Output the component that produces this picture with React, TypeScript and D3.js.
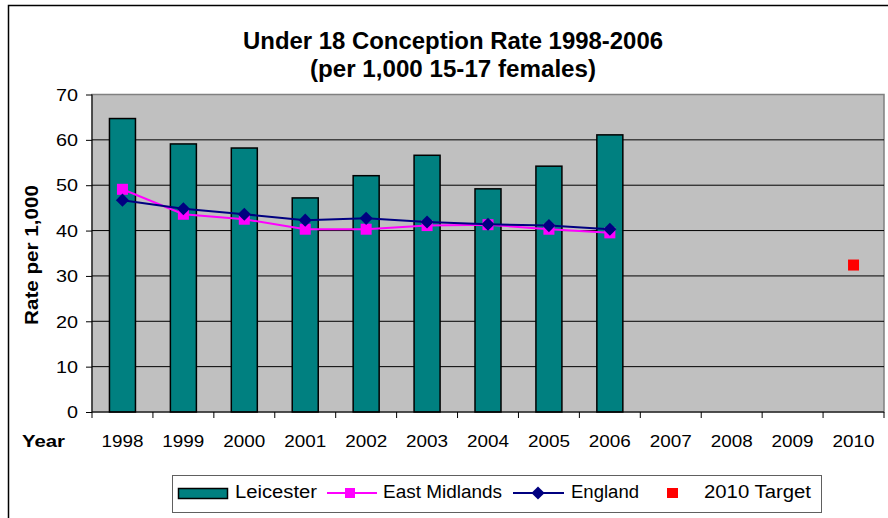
import * as d3 from "d3";
import { useEffect, useRef } from "react";

const years = ["1998", "1999", "2000", "2001", "2002", "2003", "2004", "2005", "2006", "2007", "2008", "2009", "2010"];
const leicester = [64.7, 59.1, 58.2, 47.2, 52.1, 56.6, 49.2, 54.2, 61.1];
const eastMidlands = [49.1, 43.6, 42.5, 40.3, 40.3, 41.1, 41.3, 40.3, 39.5];
const england = [46.7, 44.8, 43.6, 42.3, 42.7, 41.9, 41.4, 41.1, 40.3];
const target = [{ year: "2010", value: 32.4 }];
const yTicks = [0, 10, 20, 30, 40, 50, 60, 70];

const W = 888;
const H = 518;
const font = "'Liberation Sans', Arial, sans-serif";

function App() {
  const svgRef = useRef<SVGSVGElement>(null);

  useEffect(() => {
    const svg = d3.select(svgRef.current);
    svg.selectAll("*").remove();

    const left = 92, right = 884, top = 94.5, bottom = 412;
    const x = d3.scaleBand().domain(years).range([left, right]);
    const y = d3.scaleLinear().domain([0, 70]).range([bottom, top]);
    const cx = (yr: string) => (x(yr) as number) + x.bandwidth() / 2;

    // outer chart border
    svg.append("rect").attr("x", 8.5).attr("y", 5.5).attr("width", 900).attr("height", 540)
      .attr("fill", "white").attr("stroke", "black").attr("stroke-width", 1.5);

    // title (source text is slightly stretched, so widths are forced)
    const title = [
      { t: "Under 18 Conception Rate 1998-2006", y: 49, w: 420 },
      { t: "(per 1,000 15-17 females)", y: 77, w: 286 },
    ];
    svg.append("g").selectAll("text").data(title).join("text")
      .attr("x", 453).attr("y", (d) => d.y).attr("text-anchor", "middle")
      .attr("font-family", font).attr("font-weight", "bold").attr("font-size", 23)
      .attr("textLength", (d) => d.w).attr("lengthAdjust", "spacingAndGlyphs").text((d) => d.t);

    // plot background
    svg.append("rect").attr("x", left).attr("y", top).attr("width", right - left).attr("height", bottom - top)
      .attr("fill", "#C0C0C0").attr("stroke", "#808080").attr("stroke-width", 1.5);

    // gridlines
    svg.append("g").selectAll("line").data(yTicks.filter((t) => t > 0 && t < 70)).join("line")
      .attr("x1", left).attr("x2", right).attr("y1", (d) => y(d)).attr("y2", (d) => y(d))
      .attr("stroke", "black").attr("stroke-width", 1);

    // bars
    const barW = 26;
    svg.append("g").selectAll("rect").data(leicester).join("rect")
      .attr("x", (_, i) => cx(years[i]) - barW / 2)
      .attr("y", (d) => y(d))
      .attr("width", barW)
      .attr("height", (d) => y(0) - y(d))
      .attr("fill", "#008080").attr("stroke", "black").attr("stroke-width", 1.5);

    // axes
    const axisY = d3.axisLeft(y).tickValues(yTicks).tickSize(6).tickPadding(8).tickFormat(d3.format("d"));
    const gy = svg.append("g").attr("transform", `translate(${left},0)`).call(axisY);
    gy.select(".domain").attr("stroke", "black").attr("d", `M0,${top}V${bottom}`);
    gy.selectAll("text").attr("font-family", font).attr("font-size", 16).attr("fill", "black")
      .attr("dy", "0.36em")
      .attr("textLength", (d: any) => String(d).length * 11).attr("lengthAdjust", "spacingAndGlyphs");

    const gx = svg.append("g").attr("transform", `translate(0,${bottom})`);
    gx.append("line").attr("x1", left).attr("x2", right).attr("stroke", "black");
    gx.selectAll("line.tk").data(years.concat(["end"])).join("line").attr("class", "tk")
      .attr("x1", (_, i) => left + i * x.step()).attr("x2", (_, i) => left + i * x.step())
      .attr("y1", 0).attr("y2", 6).attr("stroke", "black");
    gx.selectAll("text").data(years).join("text")
      .attr("x", (d) => cx(d)).attr("y", 35).attr("text-anchor", "middle")
      .attr("font-family", font).attr("font-size", 16).attr("fill", "black")
      .attr("textLength", 42).attr("lengthAdjust", "spacingAndGlyphs").text((d) => d);

    // lines
    const line = d3.line<number>().x((_, i) => cx(years[i])).y((d) => y(d));
    svg.append("path").datum(eastMidlands).attr("d", line).attr("fill", "none")
      .attr("stroke", "#FF00FF").attr("stroke-width", 2);
    svg.append("path").datum(england).attr("d", line).attr("fill", "none")
      .attr("stroke", "#000080").attr("stroke-width", 2);

    svg.append("g").selectAll("rect").data(eastMidlands).join("rect")
      .attr("x", (_, i) => cx(years[i]) - 5.5).attr("y", (d) => y(d) - 5.5)
      .attr("width", 11).attr("height", 11).attr("fill", "#FF00FF");
    const diamond = d3.symbol().type(d3.symbolDiamond2).size(110);
    svg.append("g").selectAll("path").data(england).join("path")
      .attr("transform", (d, i) => `translate(${cx(years[i])},${y(d)})`)
      .attr("d", diamond).attr("fill", "#000080");

    svg.append("g").selectAll("rect").data(target).join("rect")
      .attr("x", (d) => cx(d.year) - 5.5).attr("y", (d) => y(d.value) - 5.5)
      .attr("width", 11).attr("height", 11).attr("fill", "#FF0000");

    // axis titles
    svg.append("text").attr("transform", `translate(38,255) rotate(-90)`).attr("text-anchor", "middle")
      .attr("font-family", font).attr("font-weight", "bold").attr("font-size", 18)
      .attr("textLength", 140).attr("lengthAdjust", "spacingAndGlyphs").text("Rate per 1,000");
    svg.append("text").attr("x", 22).attr("y", 447).attr("font-family", font)
      .attr("font-weight", "bold").attr("font-size", 17)
      .attr("textLength", 43).attr("lengthAdjust", "spacingAndGlyphs").text("Year");

    // legend
    const lg = svg.append("g");
    lg.append("rect").attr("x", 172.5).attr("y", 475.5).attr("width", 649).attr("height", 37)
      .attr("fill", "white").attr("stroke", "#606060");
    lg.append("rect").attr("x", 178.5).attr("y", 488.5).attr("width", 49).attr("height", 10)
      .attr("fill", "#008080").attr("stroke", "black").attr("stroke-width", 1.5);
    lg.append("line").attr("x1", 327).attr("x2", 377).attr("y1", 493).attr("y2", 493)
      .attr("stroke", "#FF00FF").attr("stroke-width", 2);
    lg.append("rect").attr("x", 345).attr("y", 488).attr("width", 10).attr("height", 10).attr("fill", "#FF00FF");
    lg.append("line").attr("x1", 513).attr("x2", 564).attr("y1", 493).attr("y2", 493)
      .attr("stroke", "#000080").attr("stroke-width", 2);
    lg.append("path").attr("transform", "translate(538,493)").attr("d", diamond).attr("fill", "#000080");
    lg.append("rect").attr("x", 667).attr("y", 488).attr("width", 11).attr("height", 10).attr("fill", "#FF0000");
    const legendLabels = [
      { x: 235, w: 82, t: "Leicester" },
      { x: 383, w: 119, t: "East Midlands" },
      { x: 571, w: 68, t: "England" },
      { x: 704, w: 107, t: "2010 Target" },
    ];
    lg.selectAll("text").data(legendLabels).join("text")
      .attr("x", (d) => d.x).attr("y", 498).attr("font-family", font).attr("font-size", 18)
      .attr("textLength", (d) => d.w).attr("lengthAdjust", "spacingAndGlyphs")
      .attr("fill", "black").text((d) => d.t);
  }, []);

  return <svg ref={svgRef} width={W} height={H} style={{ position: "absolute", left: 0, top: 0 }} />;
}

export default App;
